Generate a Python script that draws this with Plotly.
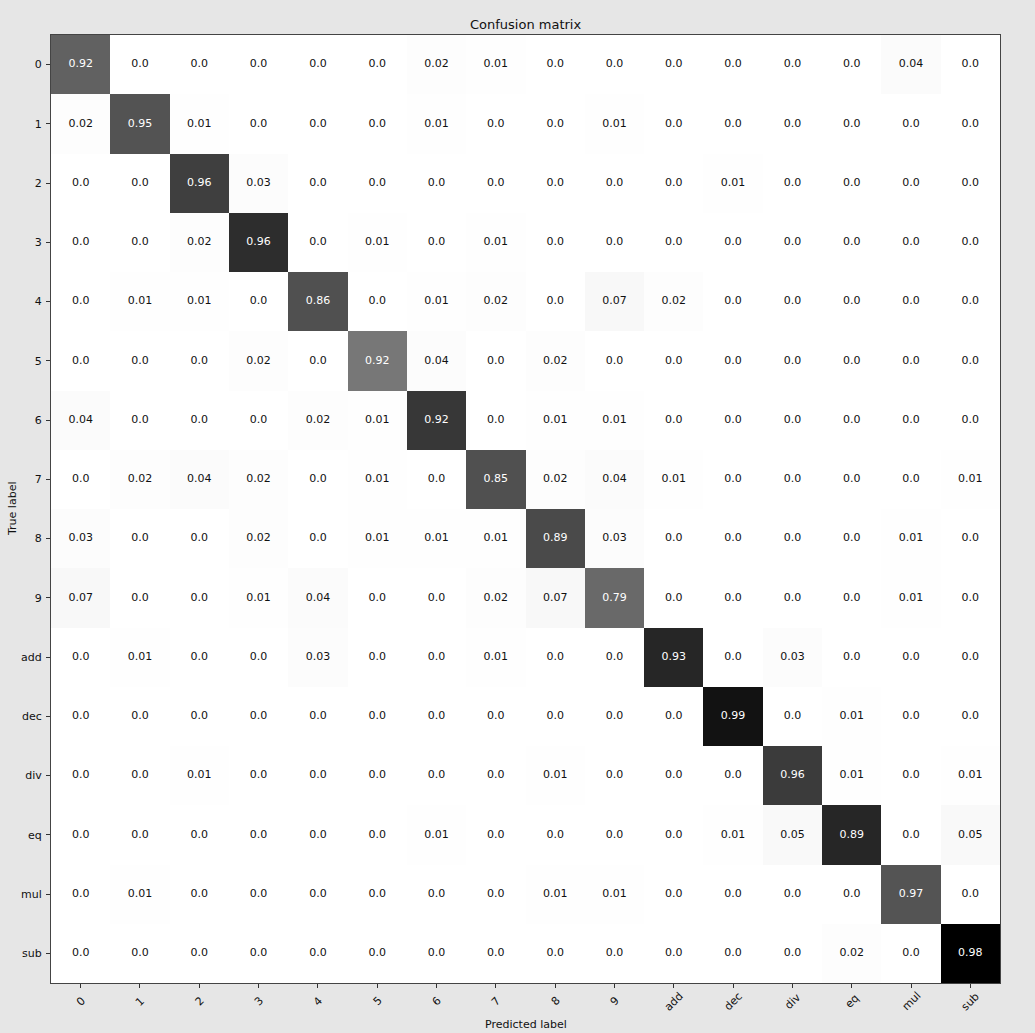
import plotly.graph_objects as go

classes = ["0", "1", "2", "3", "4", "5", "6", "7", "8", "9",
           "add", "dec", "div", "eq", "mul", "sub"]

# normalized confusion matrix (rows = true label, cols = predicted label)
cm = [
    [0.92, 0.0, 0.0, 0.0, 0.0, 0.0, 0.02, 0.01, 0.0, 0.0, 0.0, 0.0, 0.0, 0.0, 0.04, 0.0],
    [0.02, 0.95, 0.01, 0.0, 0.0, 0.0, 0.01, 0.0, 0.0, 0.01, 0.0, 0.0, 0.0, 0.0, 0.0, 0.0],
    [0.0, 0.0, 0.96, 0.03, 0.0, 0.0, 0.0, 0.0, 0.0, 0.0, 0.0, 0.01, 0.0, 0.0, 0.0, 0.0],
    [0.0, 0.0, 0.02, 0.96, 0.0, 0.01, 0.0, 0.01, 0.0, 0.0, 0.0, 0.0, 0.0, 0.0, 0.0, 0.0],
    [0.0, 0.01, 0.01, 0.0, 0.86, 0.0, 0.01, 0.02, 0.0, 0.07, 0.02, 0.0, 0.0, 0.0, 0.0, 0.0],
    [0.0, 0.0, 0.0, 0.02, 0.0, 0.92, 0.04, 0.0, 0.02, 0.0, 0.0, 0.0, 0.0, 0.0, 0.0, 0.0],
    [0.04, 0.0, 0.0, 0.0, 0.02, 0.01, 0.92, 0.0, 0.01, 0.01, 0.0, 0.0, 0.0, 0.0, 0.0, 0.0],
    [0.0, 0.02, 0.04, 0.02, 0.0, 0.01, 0.0, 0.85, 0.02, 0.04, 0.01, 0.0, 0.0, 0.0, 0.0, 0.01],
    [0.03, 0.0, 0.0, 0.02, 0.0, 0.01, 0.01, 0.01, 0.89, 0.03, 0.0, 0.0, 0.0, 0.0, 0.01, 0.0],
    [0.07, 0.0, 0.0, 0.01, 0.04, 0.0, 0.0, 0.02, 0.07, 0.79, 0.0, 0.0, 0.0, 0.0, 0.01, 0.0],
    [0.0, 0.01, 0.0, 0.0, 0.03, 0.0, 0.0, 0.01, 0.0, 0.0, 0.93, 0.0, 0.03, 0.0, 0.0, 0.0],
    [0.0, 0.0, 0.0, 0.0, 0.0, 0.0, 0.0, 0.0, 0.0, 0.0, 0.0, 0.99, 0.0, 0.01, 0.0, 0.0],
    [0.0, 0.0, 0.01, 0.0, 0.0, 0.0, 0.0, 0.0, 0.01, 0.0, 0.0, 0.0, 0.96, 0.01, 0.0, 0.01],
    [0.0, 0.0, 0.0, 0.0, 0.0, 0.0, 0.01, 0.0, 0.0, 0.0, 0.0, 0.01, 0.05, 0.89, 0.0, 0.05],
    [0.0, 0.01, 0.0, 0.0, 0.0, 0.0, 0.0, 0.0, 0.01, 0.01, 0.0, 0.0, 0.0, 0.0, 0.97, 0.0],
    [0.0, 0.0, 0.0, 0.0, 0.0, 0.0, 0.0, 0.0, 0.0, 0.0, 0.0, 0.0, 0.0, 0.02, 0.0, 0.98],
]

# relative number of samples per true class (cell shade = raw counts)
support = [74, 77, 82, 87, 86, 65, 88, 87, 85, 82, 92, 93, 83, 96, 75, 100]

counts = [[v * s for v in row] for row, s in zip(cm, support)]

greys = [[0.0, "#ffffff"], [0.125, "#f0f0f0"], [0.25, "#d9d9d9"], [0.375, "#bdbdbd"],
         [0.5, "#969696"], [0.625, "#737373"], [0.75, "#525252"], [0.875, "#252525"],
         [1.0, "#000000"]]

zmax = max(max(r) for r in counts)

fig = go.Figure()
fig.add_trace(go.Heatmap(
    z=counts, x=classes, y=classes, colorscale=greys, zmin=0, zmax=zmax,
    showscale=False, xgap=0, ygap=0, hoverinfo="skip",
))

thresh = max(max(r) for r in cm) / 2.0
tx, ty, tt, tc = [], [], [], []
for i, row in enumerate(cm):
    for j, v in enumerate(row):
        tx.append(classes[j])
        ty.append(classes[i])
        tt.append(str(v))
        tc.append("#ffffff" if v > thresh else "#111111")

fig.add_trace(go.Scatter(
    x=tx, y=ty, text=tt, mode="text",
    textfont=dict(family="DejaVu Sans", size=11, color=tc),
    hoverinfo="skip", showlegend=False,
))

font = dict(family="DejaVu Sans", size=11, color="#111111")

annotations = []
for c in classes:
    annotations.append(dict(
        x=c, y=0, xref="x", yref="paper", text=c, showarrow=False,
        textangle=-45, xanchor="center", yanchor="middle", yshift=-18,
        font=font,
    ))
annotations.append(dict(x=0.5, y=0, xref="paper", yref="paper", text="Predicted label",
                        showarrow=False, yshift=-41, yanchor="middle", font=font))
annotations.append(dict(x=0, y=0.5, xref="paper", yref="paper", text="True label",
                        showarrow=False, xshift=-39, xanchor="center", textangle=-90,
                        font=font))
annotations.append(dict(x=0.5, y=1, xref="paper", yref="paper", text="Confusion matrix",
                        showarrow=False, yshift=11, yanchor="middle",
                        font=dict(family="DejaVu Sans", size=13, color="#111111")))

n = len(classes)
fig.update_layout(
    width=1035, height=1033,
    margin=dict(l=51, r=35, t=35, b=50),
    paper_bgcolor="#e6e6e6", plot_bgcolor="#ffffff",
    showlegend=False,
    annotations=annotations,
    xaxis=dict(type="category", showticklabels=False, ticks="outside", ticklen=4,
               tickcolor="#333333", showline=True, mirror=True, linecolor="#444444",
               linewidth=1, showgrid=False, zeroline=False,
               range=[-0.5, n - 0.5], autorange=False),
    yaxis=dict(type="category", ticks="outside", ticklen=4,
               tickcolor="#333333", showline=True, mirror=True, linecolor="#444444",
               linewidth=1, showgrid=False, zeroline=False, tickfont=font,
               range=[n - 0.5, -0.5], autorange=False, ticklabelstandoff=2),
)

fig.write_html("out.html")
